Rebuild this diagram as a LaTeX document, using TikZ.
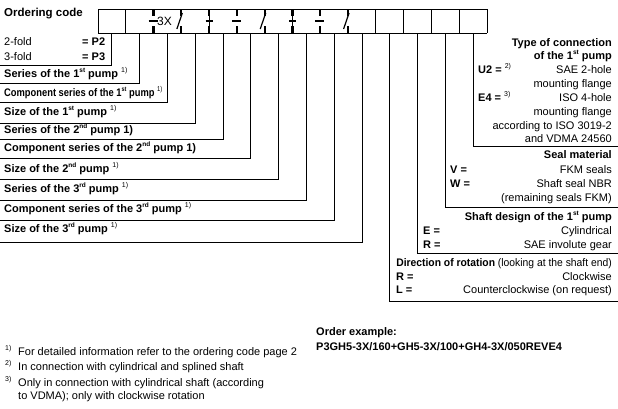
\documentclass[tikz,border=0pt]{standalone}
\usepackage{fontspec}
\usepackage{graphicx}
\setmainfont{Liberation Sans}
\newcommand\tsup[1]{\raisebox{0.5em}{\fontsize{6.5}{6.5}\selectfont #1}}
\newcommand\fnm[1]{\raisebox{0.45em}{\fontsize{7}{7}\selectfont\mdseries #1}}
\newcommand\fs{\fontsize{11}{13}\selectfont}
\tikzset{
  lbl/.style={anchor=mid west, inner sep=0pt, font=\fs\bfseries},
  rg/.style={anchor=mid west, inner sep=0pt, font=\fs},
  rb/.style={anchor=mid east, inner sep=0pt, font=\fs\bfseries},
  rt/.style={anchor=mid east, inner sep=0pt, font=\fs},
  ln/.style={line width=0.9pt, black},
  tick/.style={line width=2.2pt},
}
\begin{document}
\begin{tikzpicture}[x=1pt,y=-1pt]
\useasboundingbox (0,0) rectangle (618,408);
\def\bw{27.786}
% box outline
\draw[ln] (98,9) -- (487,9) (98,33) -- (487,33);
\foreach \i in {0,1,10,11,12,13,14} \draw[ln] ({98+\i*\bw},9) -- ({98+\i*\bw},33);
% separators
\foreach \i in {2,3,4,5,6,7,8,9} \draw[tick] ({98+\i*\bw},9) -- ({98+\i*\bw},16) ({98+\i*\bw},26) -- ({98+\i*\bw},33);
\foreach \i in {2,5,8} \draw[ln,line width=1.1pt] ({98+\i*\bw-5},21) -- ({98+\i*\bw+4},21);
\foreach \i in {3,6,9} \draw[ln,line width=1.2pt] ({98+\i*\bw-4.5},29) -- ({98+\i*\bw+1},13);
\foreach \i in {4,7} \draw[ln,line width=1.1pt] ({98+\i*\bw-3.5},21) -- ({98+\i*\bw+3.5},21) ({98+\i*\bw},16) -- ({98+\i*\bw},26);
\node[inner sep=0pt, font=\fontsize{12}{12}\selectfont] (x3) at (164.5,21.5) {3X};
% cell bottom coordinates
\foreach \i in {1,...,14} \coordinate (c\i) at ({98+(\i-0.5)*\bw},33);
% label line ends
\coordinate (L1) at (0,65);
\coordinate (L2) at (0,83);
\coordinate (L3) at (0,102);
\coordinate (L4) at (0,123);
\coordinate (L5) at (0,139);
\coordinate (L6) at (0,158);
\coordinate (L7) at (0,179);
\coordinate (L8) at (0,200);
\coordinate (L9) at (0,220);
\coordinate (L10) at (0,242);
\coordinate (R11) at (618,301);
\coordinate (R12) at (618,253);
\coordinate (R13) at (618,207);
\coordinate (R14) at (618,146);
\foreach \i in {1,...,10} \draw[ln] (c\i) |- (L\i);
\foreach \i in {11,...,14} \draw[ln] (c\i) |- (R\i);
% left texts
\node[lbl, font=\fontsize{11.5}{13}\selectfont\bfseries] (t0) at (4,14) {Ordering code};
\node[rg] (t1) at (4,43) {2-fold};
\node[lbl] (t1b) at (82,43) {= P2};
\node[rg] (t2) at (4,58) {3-fold};
\node[lbl] (t2b) at (82,58) {= P3};
\node[lbl] (s1) at (4,75) {Series of the 1\tsup{st} pump \fnm{1)}};
\node[lbl] (s2) at (4,94) {\scalebox{0.85}[1]{Component series of the 1\tsup{st} pump \fnm{1)}}};
\node[lbl] (s3) at (4,113) {Size of the 1\tsup{st} pump \fnm{1)}};
\node[lbl] (s4) at (4,131) {Series of the 2\tsup{nd} pump 1)};
\node[lbl] (s5) at (4,149) {Component series of the 2\tsup{nd} pump 1)};
\node[lbl] (s6) at (4,170) {Size of the 2\tsup{nd} pump \fnm{1)}};
\node[lbl] (s7) at (4,190) {Series of the 3\tsup{rd} pump \fnm{1)}};
\node[lbl] (s8) at (4,210) {Component series of the 3\tsup{rd} pump \fnm{1)}};
\node[lbl] (s9) at (4,230) {Size of the 3\tsup{rd} pump \fnm{1)}};
% right texts: type of connection
\node[rb] (a1) at (612,44) {Type of connection};
\node[rb] (a2) at (612,57) {of the 1\tsup{st} pump};
\node[lbl] (a3) at (478,71) {U2 = \fnm{2)}};
\node[rt] (a4) at (612,71) {SAE 2-hole};
\node[rt] (a5) at (612,85) {mounting flange};
\node[lbl] (a6) at (478,99) {E4 = \fnm{3)}};
\node[rt] (a7) at (612,99) {ISO 4-hole};
\node[rt] (a8) at (612,113) {mounting flange};
\node[rt] (a9) at (612,127) {according to ISO 3019-2};
\node[rt] (a10) at (612,140) {and VDMA 24560};
% seal material
\node[rb] (b1) at (612,156) {Seal material};
\node[lbl] (b2) at (450,171) {V =};
\node[rt] (b3) at (612,171) {FKM seals};
\node[lbl] (b4) at (450,185) {W =};
\node[rt] (b5) at (612,185) {Shaft seal NBR};
\node[rt] (b6) at (612,199) {(remaining seals FKM)};
% shaft design
\node[rb] (d1) at (612,218) {Shaft design of the 1\tsup{st} pump};
\node[lbl] (d2) at (423,232) {E =};
\node[rt] (d3) at (612,232) {Cylindrical};
\node[lbl] (d4) at (423,246) {R =};
\node[rt] (d5) at (612,246) {SAE involute gear};
% direction of rotation
\node[rt] (e1) at (612,264) {\scalebox{0.94}[1]{\textbf{Direction of rotation} (looking at the shaft end)}};
\node[lbl] (e2) at (396,278) {R =};
\node[rt] (e3) at (612,278) {Clockwise};
\node[lbl] (e4) at (396,291) {L =};
\node[rt] (e5) at (612,291) {Counterclockwise (on request)};
% footnotes
\node[rg] (f1) at (5,353) {\makebox[13pt][l]{\fnm{1)}}For detailed information refer to the ordering code page 2};
\node[rg] (f2) at (5,368) {\makebox[13pt][l]{\fnm{2)}}In connection with cylindrical and splined shaft};
\node[rg] (f3) at (5,384) {\makebox[13pt][l]{\fnm{3)}}Only in connection with cylindrical shaft (according};
\node[rg] (f4) at (18,397) {to VDMA); only with clockwise rotation};
% order example
\node[lbl] (o1) at (316,333) {Order example:};
\node[lbl] (o2) at (316,348) {P3GH5-3X/160+GH5-3X/100+GH4-3X/050REVE4};
\end{tikzpicture}
\end{document}
